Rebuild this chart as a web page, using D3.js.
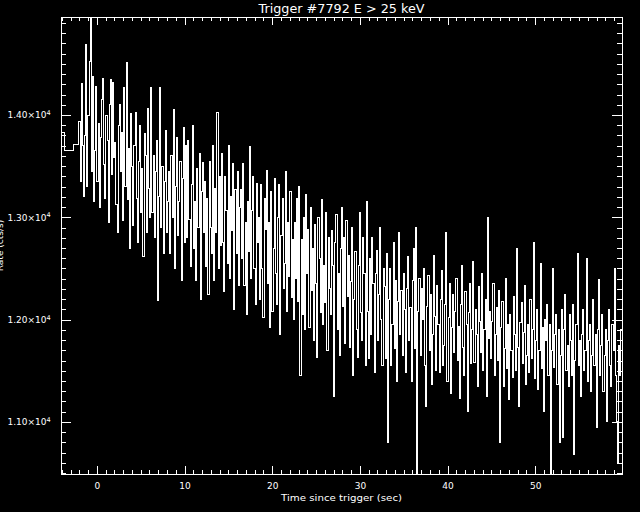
<!DOCTYPE html>
<html><head><meta charset="utf-8">
<script src="https://cdn.jsdelivr.net/npm/d3@7"></script>
<style>html,body{margin:0;padding:0;background:#000;} svg{display:block;}</style>
</head><body>
<svg id="chart" width="640" height="512"></svg>
<script>
const title = "Trigger #7792 E > 25 keV";
const xTitle = "Time since trigger (sec)";
const yTitle = "Rate (cts/s)";
const preEdges = [-4.72, -3.674, -2.693];
const preRates = [13827, 13651, 13707];
const fineStart = -2.048;
const binWidth = 0.128;
const fineRates = [
13940,13350,14310,13700,13200,13800,14690,13300,14000,14520,14958,13450,14380,13150,13650,14280,
13350,13920,13100,13780,14150,14360,13520,13180,14000,13750,12950,14100,14350,13420,14320,13580,
13730,13130,12850,13900,14100,13450,13830,12970,14270,13300,14510,13170,13670,12700,14010,13500,
12920,13700,14020,13180,12750,13550,13900,13050,13480,12620,13820,13600,12850,14060,13280,13000,
14270,13050,13600,12800,13450,13750,12190,13200,14270,12900,13500,12650,13350,13850,12850,13150,
13450,12650,13600,13000,14050,12500,13300,13780,12820,13150,13550,12380,13380,13880,12750,13700,
12800,13750,12980,12520,13320,13900,12700,13150,12380,13480,12900,13620,12200,13250,13540,12850,
13350,12520,13180,12250,13550,12900,12650,13700,12380,13280,12850,14020,12500,13400,12720,13620,
12750,12270,13400,13070,12550,13700,12400,13200,12870,13530,12100,13270,12650,13450,12330,13100,
13270,12600,13530,12330,12950,12050,13150,12670,13690,12400,13070,13400,12500,12150,13330,12750,
13000,12200,13320,12500,12020,13180,12880,13460,12350,12950,11920,13250,12080,12700,13380,12450,
12150,13000,13320,11850,12820,13180,12300,12550,13450,12080,12950,12420,13250,12220,12780,12000,
12950,12400,13180,12180,13300,11450,12780,12050,13000,11900,13220,12450,12880,11920,13100,12280,
12700,11800,12930,12350,11630,13000,12600,12070,13170,11950,12530,12170,13050,11700,12800,12300,
12050,12870,12530,11250,12750,13030,11900,12450,11650,12700,13100,12130,12800,11770,12970,12230,
12630,11730,12370,12900,11450,12200,12670,11900,11630,12530,13050,12070,11800,12800,12450,11550,
13150,12080,11620,12600,11850,12800,12350,11480,12450,12680,11800,12250,12900,12000,11550,12500,
12320,11620,12650,10800,12200,12500,11550,11950,12750,11720,12380,11400,12180,12850,11850,12280,
11650,12450,12100,11480,12300,12620,11800,12120,11400,12380,12700,11720,12900,10491,12080,12400,
11650,12300,12000,12500,11550,11150,12130,12430,11700,12250,11370,11850,12630,12030,11500,12330,
11950,11480,12200,12480,11550,11750,12150,12850,11400,12020,12350,11280,11920,12250,11680,12080,
12400,11600,11930,11230,12150,12530,11730,11450,12270,11950,11100,12070,12350,11570,11900,12570,
11580,12100,11850,11350,12320,11980,11680,12450,11500,11900,12200,11250,13000,11820,12080,11620,
11980,12350,11450,11850,12120,11600,12280,10800,11920,12180,11350,11720,12400,11520,11950,11220,
12050,11700,11430,12230,11850,11500,12700,11730,11150,11970,12170,11570,11870,12330,11370,11650,
11950,11480,12200,11620,11900,12750,11420,11800,12100,11320,11700,12550,11520,11920,11100,12000,
11800,12150,11450,11950,10495,11700,12500,11530,11850,12050,11370,11900,10800,11650,12100,10850,
11900,12250,11500,11750,11350,12050,11800,11450,12150,10680,11600,11950,12650,11550,11800,11250,
11850,12100,11500,11700,12600,11400,11800,11950,11300,11650,12200,11550,11850,10950,11900,12390,
11450,11750,12050,11300,11650,11900,11000,11800,12100,11550,11350,11950,11700,12500,11450,11000,
10590,11750,11450,11900
];
const xDomain = [-4.096, 59.904];
const xMajorTicks = [0, 10, 20, 30, 40, 50];
const yMajorTicks = [11000, 12000, 13000, 14000];
const yTickMantissa = ["1.10", "1.20", "1.30", "1.40"];
const yTickExponent = "4";

const FONT = "'DejaVu Sans', sans-serif";
const svg = d3.select("#chart");
svg.append("rect").attr("width", 640).attr("height", 512).attr("fill", "#000");
const L = 61, R = 622, T = 17, B = 474;
const x = d3.scaleLinear().domain(xDomain).range([L, R]);
const allRates = preRates.concat(fineRates);
const y = d3.scaleLinear().domain(d3.extent(allRates)).range([B, T]);

const pts = [];
preRates.forEach((v, i) => pts.push([preEdges[i], v]));
fineRates.forEach((v, i) => pts.push([fineStart + i * binWidth, v]));
pts.push([fineStart + fineRates.length * binWidth, fineRates[fineRates.length - 1]]);

svg.append("clipPath").attr("id", "clip").append("rect")
  .attr("x", L).attr("y", T).attr("width", R - L).attr("height", B - T);

svg.append("path").datum(pts)
  .attr("clip-path", "url(#clip)")
  .attr("fill", "none").attr("stroke", "#fff").attr("stroke-width", 1)
  .attr("shape-rendering", "crispEdges")
  .attr("d", d3.line().x(d => x(d[0])).y(d => y(d[1])).curve(d3.curveStepAfter));

function styleAxis(g) {
  g.select(".domain").remove();
  g.selectAll(".tick line").attr("stroke", "#fff").attr("shape-rendering", "crispEdges");
  g.selectAll(".tick text").attr("fill", "#fff").attr("font-family", FONT).attr("font-size", 9);
}
const xMinor = d3.range(-4, 60, 1);
const yMinor = d3.range(10500, 15000, 100).filter(v => v >= y.domain()[0] && v <= y.domain()[1]);

svg.append("g").attr("transform", `translate(0,${B})`)
  .call(d3.axisBottom(x).tickValues(xMinor).tickSizeInner(-4).tickSizeOuter(0).tickFormat(""))
  .call(styleAxis);
svg.append("g").attr("transform", `translate(0,${B})`)
  .call(d3.axisBottom(x).tickValues(xMajorTicks).tickSizeInner(-8).tickSizeOuter(0).tickPadding(8.5).tickFormat(d3.format("d")))
  .call(styleAxis);
svg.append("g").attr("transform", `translate(0,${T})`)
  .call(d3.axisTop(x).tickValues(xMinor).tickSizeInner(-4).tickSizeOuter(0).tickFormat(""))
  .call(styleAxis);
svg.append("g").attr("transform", `translate(0,${T})`)
  .call(d3.axisTop(x).tickValues(xMajorTicks).tickSizeInner(-8).tickSizeOuter(0).tickFormat(""))
  .call(styleAxis);
svg.append("g").attr("transform", `translate(${L},0)`)
  .call(d3.axisLeft(y).tickValues(yMinor).tickSizeInner(-5).tickSizeOuter(0).tickFormat(""))
  .call(styleAxis);
const gl = svg.append("g").attr("transform", `translate(${L},0)`)
  .call(d3.axisLeft(y).tickValues(yMajorTicks).tickSizeInner(-10).tickSizeOuter(0).tickPadding(10.3).tickFormat((d, i) => yTickMantissa[i] + "×10"))
  .call(styleAxis);
gl.selectAll(".tick text").each(function(d, i) {
  const t = d3.select(this);
  t.text(null);
  t.append("tspan").text(yTickMantissa[i] + "×10");
  t.append("tspan").attr("dy", "-3.3").attr("font-size", 6.5).text(yTickExponent);
});
svg.append("g").attr("transform", `translate(${R},0)`)
  .call(d3.axisRight(y).tickValues(yMinor).tickSizeInner(-5).tickSizeOuter(0).tickFormat(""))
  .call(styleAxis);
svg.append("g").attr("transform", `translate(${R},0)`)
  .call(d3.axisRight(y).tickValues(yMajorTicks).tickSizeInner(-10).tickSizeOuter(0).tickFormat(""))
  .call(styleAxis);

svg.append("rect").attr("x", L).attr("y", T).attr("width", R - L).attr("height", B - T)
  .attr("fill", "none").attr("stroke", "#fff").attr("shape-rendering", "crispEdges");

svg.append("text").attr("x", (L + R) / 2).attr("y", 12.5).attr("text-anchor", "middle")
  .attr("fill", "#fff").attr("font-family", FONT).attr("font-size", 12)
  .attr("textLength", 166).attr("lengthAdjust", "spacingAndGlyphs").text(title);
svg.append("text").attr("x", (L + R) / 2).attr("y", 500.7).attr("text-anchor", "middle")
  .attr("fill", "#fff").attr("font-family", FONT).attr("font-size", 9)
  .attr("textLength", 121).attr("lengthAdjust", "spacingAndGlyphs").text(xTitle);
svg.append("text").attr("transform", `translate(2.5,${(T + B) / 2}) rotate(-90)`)
  .attr("text-anchor", "middle").attr("fill", "#fff").attr("font-family", FONT).attr("font-size", 9)
  .text(yTitle);
</script>
</body></html>
